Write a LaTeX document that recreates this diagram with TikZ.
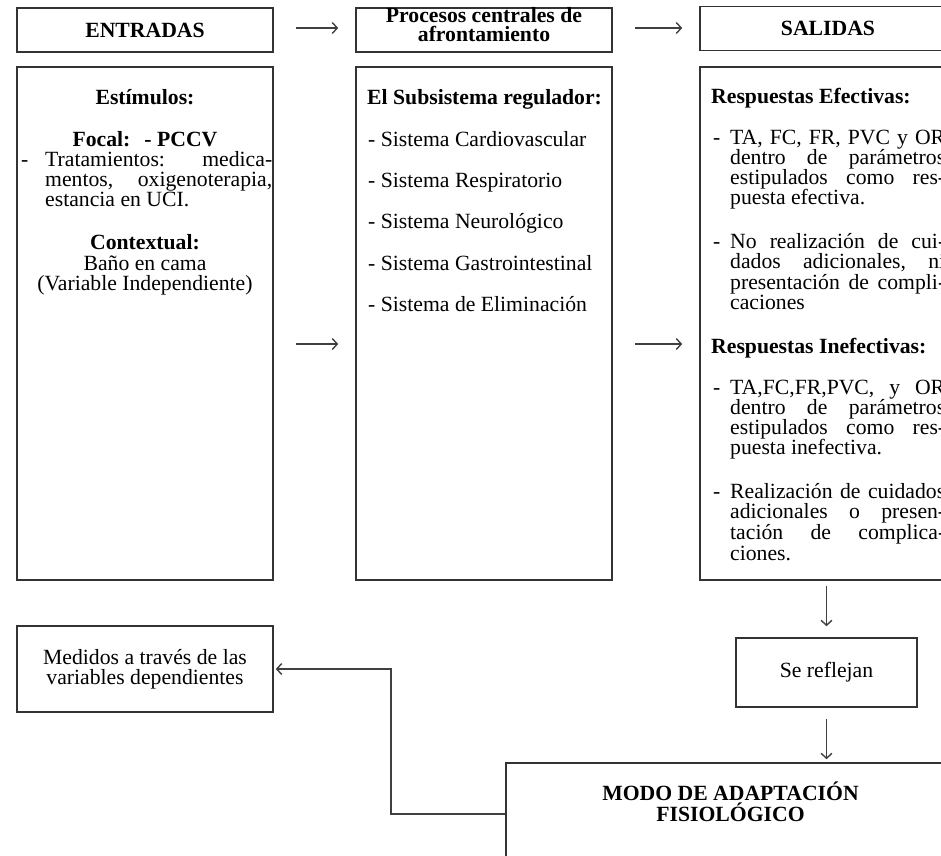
\documentclass[tikz,border=0pt]{standalone}
\usepackage{fontspec}
\setmainfont{Liberation Serif}
\usetikzlibrary{positioning,arrows.meta}
\newcommand{\txtsize}{\fontsize{21.7}{20.3}\selectfont}
\newcommand{\jl}[2][215pt]{\makebox[#1][s]{#2}}
\frenchspacing

\begin{document}
\begin{tikzpicture}[x=1pt,y=-1pt,font=\txtsize]
    \tikzstyle{box}=[rectangle,draw=black!80,line width=1.6pt,inner sep=0pt]
    \tikzstyle{ln}=[inner sep=0pt,anchor=base west]
    \tikzstyle{hd}=[inner sep=0pt,font=\txtsize\bfseries]
    \tikzstyle{arr}=[-{Straight Barb[length=5pt,width=11pt]},draw=black!75,line width=1.4pt]
    \useasboundingbox (0,0) rectangle (941,855);
    \clip (0,0) rectangle (941,855);

    % header row
    \node[box,minimum width=256pt,minimum height=44pt] (E-head) at (145,30) {\bfseries ENTRADAS};
    \node[box,minimum width=256pt,minimum height=44pt] (P-head) at (484,30) {};
    \node[hd,anchor=base] (P-t1) at (484,22) {Procesos centrales de};
    \node[hd,anchor=base] (P-t2) at (484,41) {afrontamiento};
    \node[box,minimum width=256pt,minimum height=44pt] (S-head) at (828,28.5) {\bfseries SALIDAS};

    % big boxes
    \foreach \n/\x in {E/145, P/484, S/828}
        \node[box,minimum width=256pt,minimum height=513pt] (\n-box) at (\x,323.5) {};

    \coordinate (r1) at (0,28);
    \coordinate (r2) at (0,344);
    \foreach \from/\to in {E/P,P/S}{
        \draw[arr,shorten <=22pt,shorten >=17pt] (\from-head.east |- r1) -- (\to-head.west |- r1);
        \draw[arr,shorten <=22pt,shorten >=17pt] (\from-box.east |- r2) -- (\to-box.west |- r2);
    }

    % entradas
    \node[hd,anchor=base] (E-est) at (145,104) {Estímulos:};
    \node[hd,anchor=base] (E-foc) at (145,146) {Focal:\hspace{14pt}- PCCV};
    \node[ln] (E-d1) at (21,166) {-};
    \foreach \yy/\txt in {166/{\jl[227pt]{Tratamientos: medica-}},
                          186/{\jl[227pt]{mentos, oxigenoterapia,}},
                          206/{estancia en UCI.}}
        \node[ln] (E-\yy) at (45,\yy) {\txt};
    \node[hd,anchor=base] (E-ctx) at (145,249) {Contextual:};
    \node[inner sep=0pt,anchor=base] (E-b1) at (145,270) {Baño en cama};
    \node[inner sep=0pt,anchor=base] (E-b2) at (145,290) {(Variable Independiente)};

    % procesos
    \node[hd,anchor=base west] (P-reg) at (367,104) {El Subsistema regulador:};
    \foreach \i/\yy/\txt in {1/146/Cardiovascular, 2/187/Respiratorio, 3/228/Neurológico,
                             4/270/Gastrointestinal, 5/311/de Eliminación}
        \node[ln] (P-s\i) at (368,\yy) {- Sistema \txt};

    % salidas
    \node[hd,anchor=base west] (S-ef) at (711,103) {Respuestas Efectivas:};
    \node[hd,anchor=base west] (S-inef) at (711,353) {Respuestas Inefectivas:};
    \foreach \yy in {144,248,394,498}
        \node[ln] (S-d\yy) at (713,\yy) {-};
    \foreach \yy/\txt in {144/{\jl{TA, FC, FR, PVC y OR}},
                          164/{\jl{dentro de parámetros}},
                          184/{\jl{estipulados como res-}},
                          204/{puesta efectiva.},
                          248/{\jl{No realización de cui-}},
                          268/{\jl{dados adicionales, ni}},
                          289/{\jl{presentación de compli-}},
                          309/{caciones},
                          394/{\jl{TA,FC,FR,PVC, y OR}},
                          414/{\jl{dentro de parámetros}},
                          434/{\jl{estipulados como res-}},
                          454/{puesta inefectiva.},
                          498/{\jl{Realización de cuidados}},
                          518/{\jl{adicionales o presen-}},
                          539/{\jl{tación de complica-}},
                          560/{ciones.}}
        \node[ln] (S-\yy) at (730,\yy) {\txt};

    % bottom part
    \node[box,minimum width=181pt,minimum height=69pt] (refl) at (826.5,672.5) {Se reflejan};
    \node[box,minimum width=449pt,minimum height=102pt] (modo) at (730.5,814) {};
    \node[hd,anchor=base] (modo-t1) at (730.5,800) {MODO DE ADAPTACIÓN};
    \node[hd,anchor=base] (modo-t2) at (730.5,821) {FISIOLÓGICO};
    \node[box,minimum width=256pt,minimum height=86pt,align=center] (med) at (145,669)
        {Medidos a través de las\\variables dependientes};

    \draw[arr,shorten <=5pt,shorten >=11pt] (S-box.south -| refl) -- (refl);
    \draw[arr,shorten <=11pt,shorten >=3pt] (refl) -- (refl |- modo.north);
    \coordinate (bend) at (391,669);
    \draw[arr,shorten >=2pt] (modo.west) -| (bend) -- (med.east);
\end{tikzpicture}
\end{document}
